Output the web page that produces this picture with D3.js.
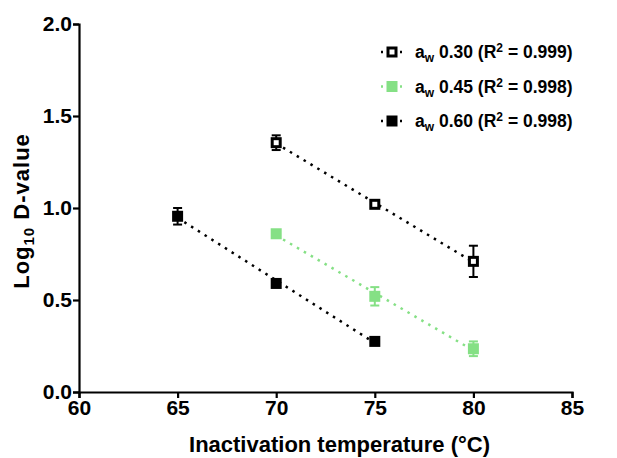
<!DOCTYPE html>
<html>
<head>
<meta charset="utf-8">
<script src="https://cdn.jsdelivr.net/npm/d3@7"></script>
<style>
  body { margin: 0; background: #fff; }
  text { font-family: "Liberation Sans", Arial, sans-serif; font-weight: bold; fill: #000; }
</style>
</head>
<body>
<div id="chart"></div>
<script>
// temperatures (°C) and log10 D-values per water activity
const temps30 = [70, 75, 80];
const logD30 = [1.355, 1.02, 0.71];
const err30 = [0.04, 0.01, 0.085];

const temps45 = [70, 75, 80];
const logD45 = [0.86, 0.52, 0.235];
const err45 = [0.02, 0.05, 0.04];

const temps60 = [65, 70, 75];
const logD60 = [0.955, 0.59, 0.275];
const err60 = [0.045, 0.01, 0.01];

const seriesNames = ["0.30", "0.45", "0.60"];
const r2Labels = ["0.999", "0.998", "0.998"];

const xTicks = [60, 65, 70, 75, 80, 85];
const yTicks = [0.0, 0.5, 1.0, 1.5, 2.0];

const width = 617, height = 458;
const margin = { top: 24, right: 45, bottom: 66, left: 79 };

const series = [
  { name: seriesNames[0], r2: r2Labels[0], x: temps30, y: logD30, e: err30, color: "#000", open: true },
  { name: seriesNames[1], r2: r2Labels[1], x: temps45, y: logD45, e: err45, color: "#85e085", open: false },
  { name: seriesNames[2], r2: r2Labels[2], x: temps60, y: logD60, e: err60, color: "#000", open: false }
];

const svg = d3.select("#chart")
  .append("svg")
  .attr("width", width)
  .attr("height", height);

const x = d3.scaleLinear().domain([60, 85]).range([margin.left, width - margin.right]);
const y = d3.scaleLinear().domain([0, 2]).range([height - margin.bottom, margin.top]);

// axes
const xAxis = svg.append("g")
  .attr("transform", `translate(0,${y(0)})`)
  .call(d3.axisBottom(x).tickValues(xTicks).tickSize(6).tickPadding(2).tickFormat(d3.format("d")));
const yAxis = svg.append("g")
  .attr("transform", `translate(${x(60)},0)`)
  .call(d3.axisLeft(y).tickValues(yTicks).tickSize(6).tickPadding(1).tickFormat(d3.format(".1f")));

[xAxis, yAxis].forEach((ax) => {
  ax.select(".domain").attr("stroke", "#000").attr("stroke-width", 2.2);
  ax.selectAll(".tick line").attr("stroke", "#000").attr("stroke-width", 2.2);
  ax.selectAll("text").style("font-size", "21px").style("font-family", "Liberation Sans, Arial, sans-serif").style("font-weight", "bold").attr("fill", "#000");
});

// axis titles
svg.append("text")
  .attr("x", (x(60) + x(85)) / 2 + 14)
  .attr("y", 452)
  .attr("text-anchor", "middle")
  .style("font-size", "22px")
  .text("Inactivation temperature (°C)");

const yTitle = svg.append("text")
  .attr("transform", `translate(29,${211}) rotate(-90)`)
  .attr("text-anchor", "middle")
  .style("font-size", "22px")
  .style("letter-spacing", "1px");
yTitle.append("tspan").text("Log");
yTitle.append("tspan").attr("dy", 5).style("font-size", "15px").text("10");
yTitle.append("tspan").attr("dy", -5).text(" D-value");

// least squares fit
function fit(xs, ys) {
  const mx = d3.mean(xs), my = d3.mean(ys);
  const b = d3.sum(xs, (v, i) => (v - mx) * (ys[i] - my)) / d3.sum(xs, (v) => (v - mx) * (v - mx));
  return { b: b, a: my - b * mx };
}

function drawMarker(g, cx, cy, s) {
  const size = 11;
  if (s.open) {
    g.append("rect")
      .attr("x", cx - size / 2 + 1.5).attr("y", cy - size / 2 + 1.5)
      .attr("width", size - 3).attr("height", size - 3)
      .attr("fill", "#fff").attr("stroke", s.color).attr("stroke-width", 3);
  } else {
    g.append("rect")
      .attr("x", cx - size / 2).attr("y", cy - size / 2)
      .attr("width", size).attr("height", size)
      .attr("fill", s.color);
  }
}

series.forEach((s) => {
  const g = svg.append("g");
  const f = fit(s.x, s.y);
  const x0 = d3.min(s.x), x1 = d3.max(s.x);
  g.append("line")
    .attr("x1", x(x0)).attr("y1", y(f.a + f.b * x0))
    .attr("x2", x(x1)).attr("y2", y(f.a + f.b * x1))
    .attr("stroke", s.color)
    .attr("stroke-width", 2.5)
    .attr("stroke-dasharray", "2.5,5.5");

  s.x.forEach((t, i) => {
    const cx = x(t);
    const top = y(s.y[i] + s.e[i]), bot = y(s.y[i] - s.e[i]);
    g.append("line").attr("x1", cx).attr("x2", cx).attr("y1", top).attr("y2", bot)
      .attr("stroke", s.color).attr("stroke-width", 2);
    [top, bot].forEach((yy) => {
      g.append("line").attr("x1", cx - 4.5).attr("x2", cx + 4.5).attr("y1", yy).attr("y2", yy)
        .attr("stroke", s.color).attr("stroke-width", 2);
    });
    drawMarker(g, cx, y(s.y[i]), s);
  });
});

// legend
const legend = svg.append("g");
series.forEach((s, i) => {
  const ly = 52 + i * 34.5;
  const lg = legend.append("g");
  lg.append("line")
    .attr("x1", 381).attr("x2", 403).attr("y1", ly).attr("y2", ly)
    .attr("stroke", s.color).attr("stroke-width", 2.5)
    .attr("stroke-dasharray", "2,7.5");
  drawMarker(lg, 392, ly, s);
  const t = lg.append("text")
    .attr("x", 415).attr("y", ly + 6)
    .style("font-size", "17.5px");
  t.append("tspan").text("a");
  t.append("tspan").attr("dy", 4).style("font-size", "12px").text("w");
  t.append("tspan").attr("dy", -4).text(` ${s.name} (R`);
  t.append("tspan").attr("dy", -6).style("font-size", "12px").text("2");
  t.append("tspan").attr("dy", 6).text(` = ${s.r2})`);
});
</script>
</body>
</html>
